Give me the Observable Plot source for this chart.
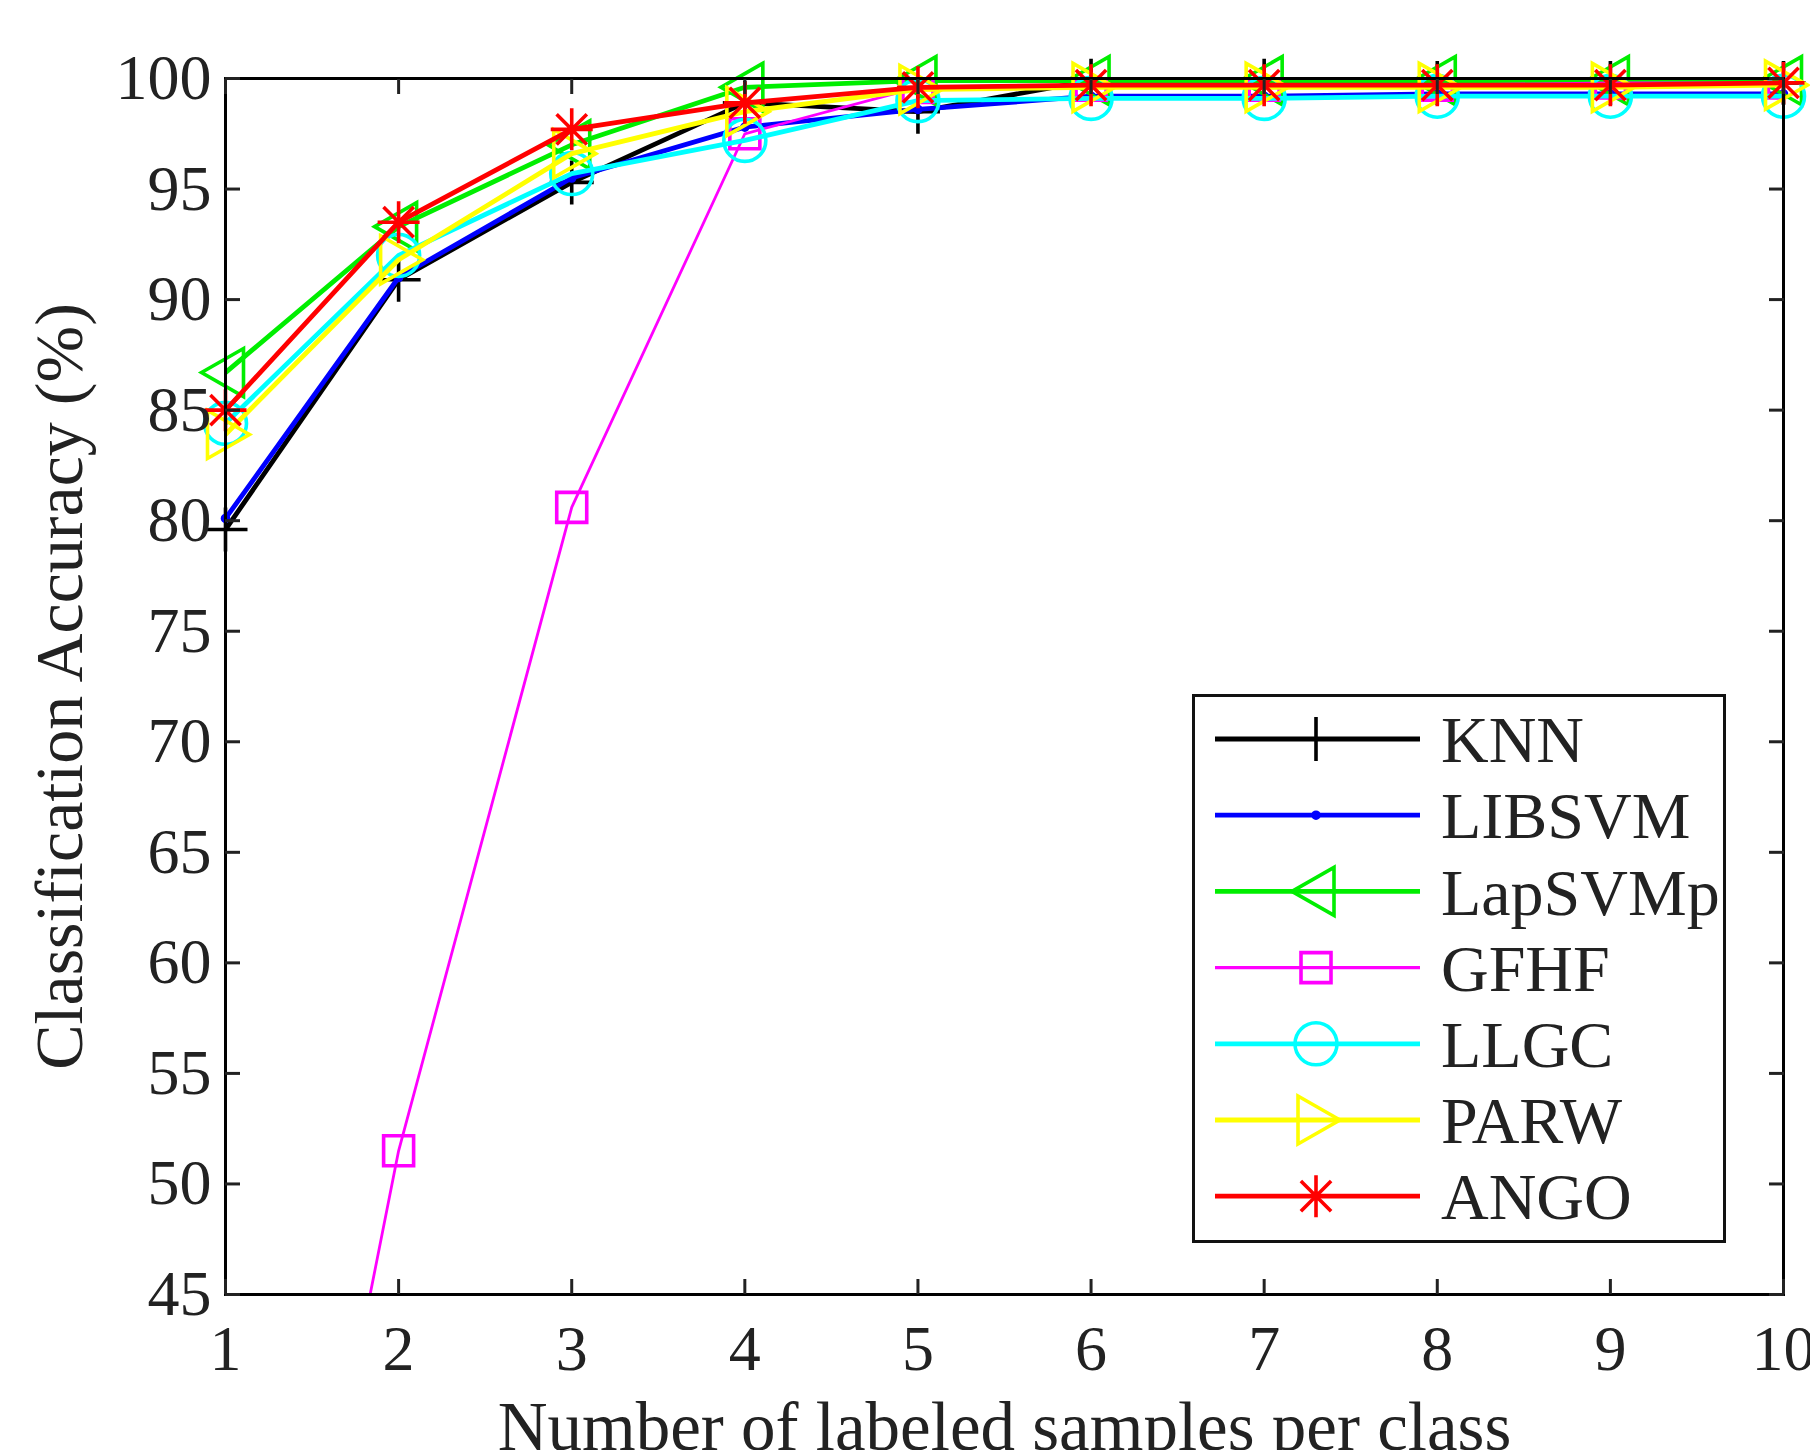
<!DOCTYPE html>
<html>
<head>
<meta charset="utf-8">
<script src="https://cdn.jsdelivr.net/npm/d3@7"></script>
<script src="https://cdn.jsdelivr.net/npm/@observablehq/plot@0.6"></script>
<style>
  html, body { margin: 0; padding: 0; background: #fff; }
  #wrap { position: relative; width: 1810px; height: 1450px; overflow: hidden; }
  #legend { position: absolute; left: 1192px; top: 694px; }
</style>
</head>
<body>
<div id="wrap"></div>
<script>
// ---- data ----
const samples = [1, 2, 3, 4, 5, 6, 7, 8, 9, 10];
const methods = ["KNN", "LIBSVM", "LapSVMp", "GFHF", "LLGC", "PARW", "ANGO"];
const KNN     = [79.6, 90.9, 95.3, 98.9, 98.5, 99.9, 99.9, 99.8, 99.8, 99.8];
const LIBSVM  = [80.1, 91.0, 95.5, 97.8, 98.6, 99.2, 99.2, 99.3, 99.3, 99.3];
const LapSVMp = [86.7, 93.3, 97.0, 99.6, 99.9, 99.9, 99.9, 99.9, 99.9, 99.9];
const GFHF    = [12.0, 51.5, 80.6, 97.5, 99.6, 99.7, 99.7, 99.7, 99.8, 99.8];
const LLGC    = [84.4, 92.0, 95.7, 97.2, 99.0, 99.1, 99.1, 99.2, 99.2, 99.2];
const PARW    = [83.9, 91.8, 96.6, 98.5, 99.5, 99.6, 99.6, 99.6, 99.6, 99.7];
const ANGO    = [85.0, 93.5, 97.7, 98.9, 99.6, 99.7, 99.7, 99.7, 99.7, 99.8];
const xTicks = [1, 2, 3, 4, 5, 6, 7, 8, 9, 10];
const yTicks = [45, 50, 55, 60, 65, 70, 75, 80, 85, 90, 95, 100];
const xLabel = "Number of labeled samples per class";
const yLabel = "Classification Accuracy (%)";

const seriesValues = {KNN, LIBSVM, LapSVMp, GFHF, LLGC, PARW, ANGO};

// ---- styles ----
const rad = s => Math.sqrt(s / Math.PI);
const symPlus = {draw(c, s) { const r = rad(s); c.moveTo(-r, 0); c.lineTo(r, 0); c.moveTo(0, -r); c.lineTo(0, r); }};
const symDot = {draw(c, s) { const r = rad(s); c.moveTo(r, 0); c.arc(0, 0, r, 0, 2 * Math.PI); }};
const symLeft = {draw(c, s) { const r = rad(s); c.moveTo(-r, 0); c.lineTo(r * 0.75, -r); c.lineTo(r * 0.75, r); c.closePath(); }};
const symRight = {draw(c, s) { const r = rad(s); c.moveTo(r, 0); c.lineTo(-r * 0.75, -r); c.lineTo(-r * 0.75, r); c.closePath(); }};
const symSquare = {draw(c, s) { const r = rad(s); c.rect(-r, -r, 2 * r, 2 * r); }};
const symCircle = {draw(c, s) { const r = rad(s); c.moveTo(r, 0); c.arc(0, 0, r, 0, 2 * Math.PI); }};
const symStar = {draw(c, s) { const r = rad(s); const d = r * 0.72;
  c.moveTo(-r, 0); c.lineTo(r, 0); c.moveTo(0, -r); c.lineTo(0, r);
  c.moveTo(-d, -d); c.lineTo(d, d); c.moveTo(-d, d); c.lineTo(d, -d); }};

const style = {
  KNN:     {color: "#000000", sym: symPlus,   r: 22, fill: "none", lw: 4.8},
  LIBSVM:  {color: "#0000ff", sym: symDot,    r: 3,  fill: "#0000ff", lw: 4.8},
  LapSVMp: {color: "#00ee00", sym: symLeft,   r: 24, fill: "none", lw: 4.8},
  GFHF:    {color: "#ff00ff", sym: symSquare, r: 15, fill: "none", lw: 2.8},
  LLGC:    {color: "#00ffff", sym: symCircle, r: 21, fill: "none", lw: 4.8},
  PARW:    {color: "#ffff00", sym: symRight,  r: 24, fill: "none", lw: 4.8},
  ANGO:    {color: "#ff0000", sym: symStar,   r: 21, fill: "none", lw: 4.8}
};

const rows = methods.flatMap(m => samples.map((x, i) => ({method: m, x, y: seriesValues[m][i]})));

const seriesMarks = methods.flatMap(m => {
  const st = style[m];
  const data = rows.filter(d => d.method === m);
  return [
    Plot.line(data, {x: "x", y: "y", stroke: st.color, strokeWidth: st.lw, clip: true}),
    Plot.dot(data, {x: "x", y: "y", symbol: st.sym, r: st.r, stroke: st.color,
      fill: st.fill, strokeWidth: 3.6, clip: m === "GFHF"})
  ];
});

const tickFont = 64;
const font = "'Liberation Serif', 'Times New Roman', serif";
const chart = Plot.plot({
  width: 1810,
  height: 1450,
  marginLeft: 225,
  marginRight: 27,
  marginTop: 78,
  marginBottom: 156,
  style: {fontFamily: font, background: "white", color: "#222", overflow: "visible"},
  x: {type: "linear", domain: [1, 10]},
  y: {type: "linear", domain: [45, 100]},
  marks: [
    ...seriesMarks,
    Plot.frame({stroke: "black", strokeWidth: 3}),
    Plot.axisX(xTicks, {anchor: "bottom", tickSize: -15, strokeWidth: 3, tickFormat: () => "", label: null}),
    Plot.axisX(xTicks, {anchor: "top", tickSize: -15, strokeWidth: 3, tickFormat: () => "", label: null}),
    Plot.axisY(yTicks, {anchor: "left", tickSize: -15, strokeWidth: 3, tickFormat: () => "", label: null}),
    Plot.axisY(yTicks, {anchor: "right", tickSize: -15, strokeWidth: 3, tickFormat: () => "", label: null}),
    Plot.axisX(xTicks, {anchor: "bottom", tickSize: 0, tickPadding: 30, fontSize: tickFont, fill: "#222",
      tickFormat: d3.format("d"), label: null}),
    Plot.axisY(yTicks, {anchor: "left", tickSize: 0, tickPadding: 14, fontSize: tickFont, fill: "#222",
      tickFormat: d3.format("d"), label: null}),
    Plot.text([xLabel], {frameAnchor: "bottom", dy: 155, lineAnchor: "bottom", fontSize: 69, fill: "#222", text: d => d}),
    Plot.text([yLabel], {frameAnchor: "left", dx: -165, rotate: -90, textAnchor: "middle", lineAnchor: "middle", fontSize: 68, fill: "#222", text: d => d})
  ]
});
document.getElementById("wrap").appendChild(chart);

// ---- legend ----
const LW = 534, LH = 549;
const leg = d3.select("#wrap").append("svg")
  .attr("id", "legend").attr("width", LW).attr("height", LH)
  .style("font-family", font);
leg.append("rect").attr("x", 1.5).attr("y", 1.5).attr("width", LW - 3).attr("height", LH - 3)
  .attr("fill", "white").attr("stroke", "#111").attr("stroke-width", 3);
methods.forEach((m, i) => {
  const st = style[m];
  const cy = 45 + i * 76.2;
  const g = leg.append("g");
  g.append("line").attr("x1", 23).attr("x2", 228).attr("y1", cy).attr("y2", cy)
    .attr("stroke", st.color).attr("stroke-width", st.lw < 3 ? 3.2 : 4.8);
  g.append("path").attr("transform", `translate(124,${cy})`)
    .attr("d", d3.symbol(st.sym, Math.PI * st.r * st.r)())
    .attr("stroke", st.color).attr("stroke-width", 3.6).attr("fill", st.fill);
  g.append("text").attr("x", 249).attr("y", cy).attr("dy", "0.35em")
    .attr("font-size", 66).attr("fill", "#222").text(m);
});
</script>
</body>
</html>
